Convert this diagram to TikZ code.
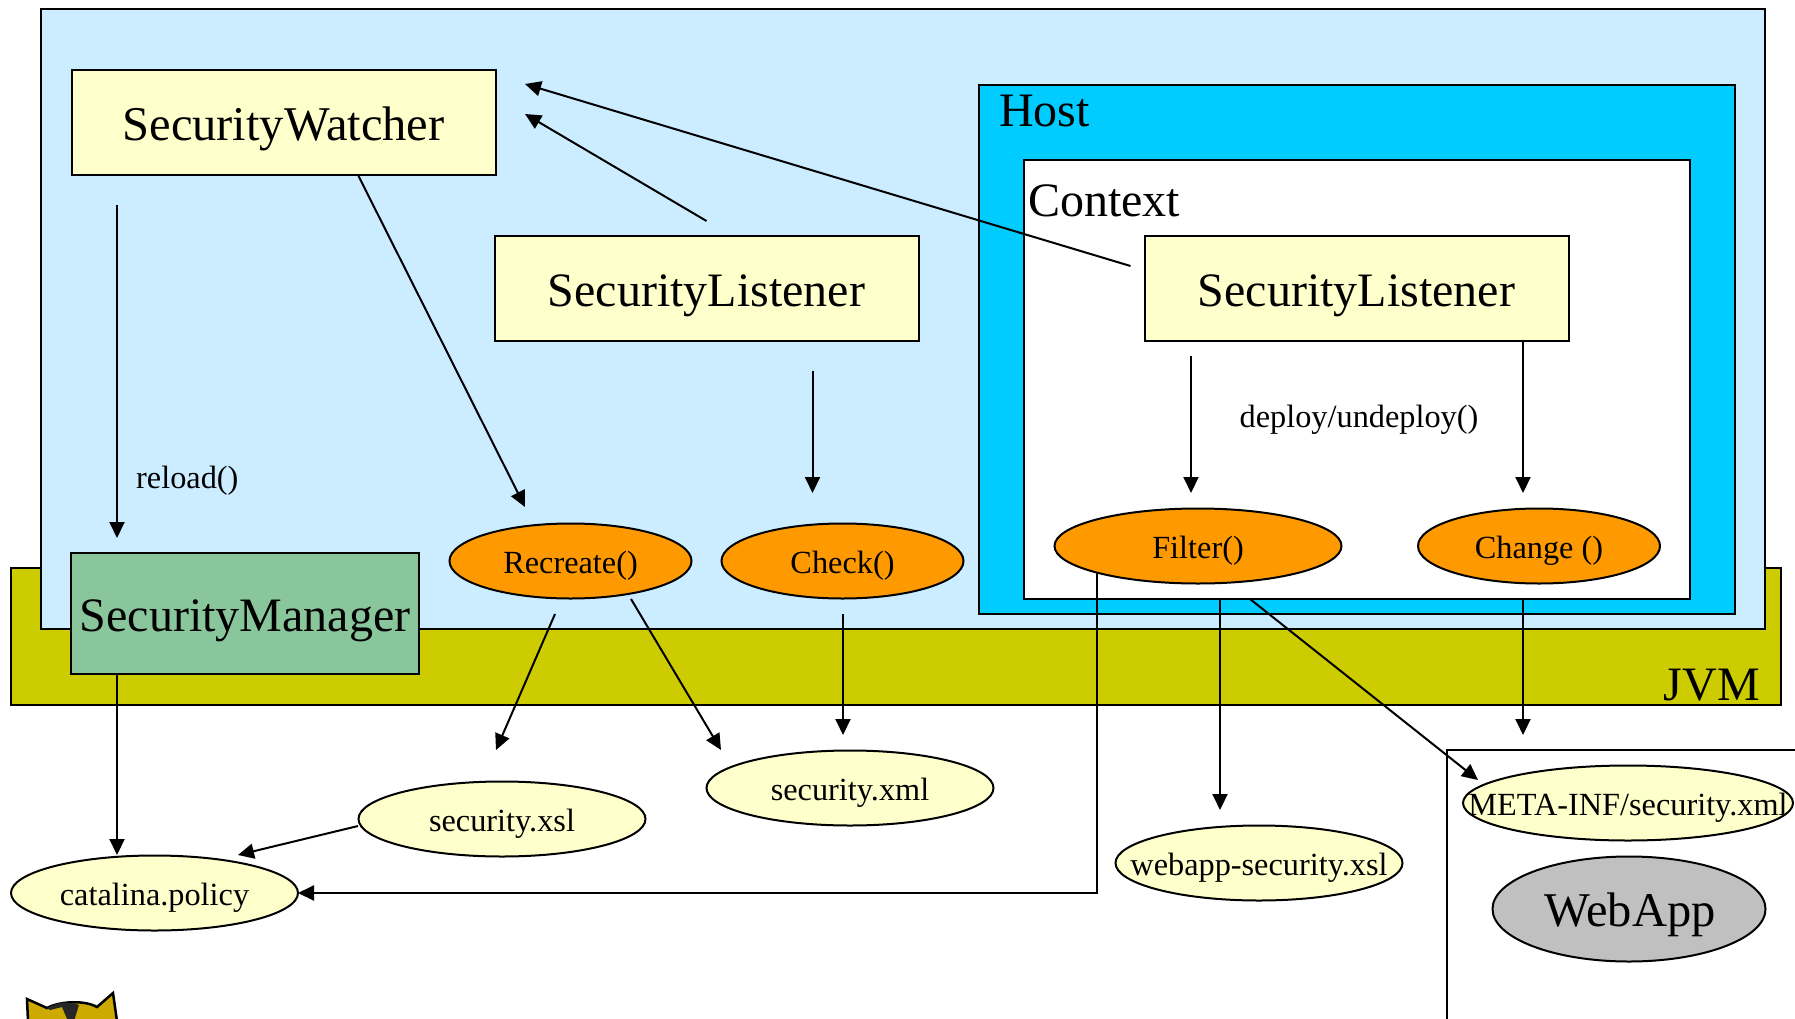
\documentclass[tikz,border=0pt]{standalone}
\usepackage{fontspec}
\setmainfont{Liberation Serif}
\usetikzlibrary{arrows.meta,shapes.geometric}
\definecolor{paleblue}{HTML}{CCECFF}
\definecolor{jvmolive}{HTML}{CCCC00}
\definecolor{hostblue}{HTML}{00CCFF}
\definecolor{paleyellow}{HTML}{FFFFCC}
\definecolor{mgrgreen}{HTML}{89C69C}
\definecolor{methodorange}{HTML}{FF9900}
\definecolor{appgray}{HTML}{C0C0C0}
\definecolor{catgold}{HTML}{CCAA00}
\newcommand{\bigtext}{\fontsize{48}{50}\selectfont}
\newcommand{\smalltext}{\fontsize{32.3}{34}\selectfont}
\newcommand{\lbl}[1]{\makebox[0pt]{#1}}
\tikzset{
  panel/.style={draw=black,line width=2pt,rectangle,inner sep=0pt,outer sep=0pt},
  classbox/.style={panel,fill=paleyellow,minimum width=424pt,minimum height=105pt,font=\bigtext,text height=40pt,text depth=4pt},
  oval/.style={draw=black,line width=2pt,ellipse,inner sep=0pt,outer sep=0pt,font=\smalltext,text height=28pt,text depth=4pt},
  method/.style={oval,fill=methodorange,minimum width=242pt,minimum height=75pt},
  fileoval/.style={oval,fill=paleyellow,minimum width=287pt,minimum height=75pt},
  arrow/.style={line width=2pt,-{Triangle[length=16pt,width=15pt]}},
  caption/.style={inner sep=0pt},
}
\begin{document}
\begin{tikzpicture}[x=1pt,y=-1pt]
\useasboundingbox (0,0) rectangle (1795,1019);
\clip (0,0) rectangle (1795,1019);
\node[panel,fill=jvmolive,minimum width=1770pt,minimum height=137pt] (JVM) at (896,636.5) {};
\node[panel,fill=paleblue,minimum width=1724pt,minimum height=620pt] (Server) at (903,319) {};
\node[panel,fill=hostblue,minimum width=756pt,minimum height=529pt] (Host) at (1357,349.5) {};
\node[panel,fill=white,minimum width=666pt,minimum height=439pt] (Context) at (1357,379.5) {};
\draw[line width=2pt] (1795,750) -- (1447,750) -- (1447,1019);
\node[caption,anchor=east,font=\bigtext] (JVMLabel) at (1760,685) {JVM};
\node[caption,anchor=west,font=\bigtext] (HostLabel) at (999,111) {Host};
\node[caption,anchor=west,font=\bigtext] (ContextLabel) at (1028,201) {Context};

\node[classbox,font=\fontsize{48.5}{50}\selectfont] (Watcher) at (283.5,122.5) {SecurityWatcher};
\node[classbox] (ListenerA) at (706.5,288.5) {SecurityListener};
\node[classbox] (ListenerB) at (1356.5,288.5) {SecurityListener};
\node[panel,fill=mgrgreen,minimum width=348pt,minimum height=121pt,font=\bigtext,text height=40pt,text depth=4pt] (Manager) at (245,613.5) {SecurityManager};

\node[method] (Recreate) at (570.5,561) {\lbl{Recreate()}};
\node[method] (Check) at (842.5,561) {\lbl{Check()}};
\node[method,minimum width=287pt] (Filter) at (1198,546) {\lbl{Filter()}};
\node[method] (Change) at (1539,546) {\lbl{Change ()}};
\node[fileoval] (SecXsl) at (502,819) {\lbl{security.xsl}};
\node[fileoval] (SecXml) at (850,788) {\lbl{security.xml}};
\node[fileoval] (Catalina) at (154.5,893) {\lbl{catalina.policy}};
\node[fileoval] (WebappXsl) at (1259,863) {\lbl{webapp-security.xsl}};
\node[fileoval,minimum width=330pt] (Meta) at (1628,803) {\lbl{META-INF/security.xml}};
\node[oval,fill=appgray,minimum width=273pt,minimum height=105pt,font=\fontsize{48.5}{50}\selectfont,text height=38pt,text depth=4pt] (WebApp) at (1629,909) {\hspace{2pt}\lbl{WebApp}};

\node[caption,anchor=west,font=\smalltext] (ReloadLabel) at (136,481) {reload()};
\node[caption,font=\smalltext] (DeployLabel) at (1359,420) {deploy/undeploy()};
\coordinate (WebBoxEntry) at (1523,735);

\draw[arrow] ([shift={(45.5,30)}]Watcher.south west) -- ([shift={(46,-15)}]Manager.north west);
\draw[arrow] ([shift={(74.5,0)}]Watcher.south) -- ([shift={(-45.5,-54)}]Recreate.center);
\draw[arrow] ([shift={(0,-15)}]ListenerA.north) -- ([shift={(29.5,-8.5)}]Watcher.east);
\draw[arrow] ([shift={(-14,-22.5)}]ListenerB.west) -- ([shift={(29.5,-38.5)}]Watcher.east);
\draw[arrow] ([shift={(106,30)}]ListenerA.south) -- ([shift={(-30,-68)}]Check.center);
\draw[arrow] ([shift={(-165.5,15)}]ListenerB.south) -- ([shift={(-7,-53)}]Filter.center);
\draw[arrow] ([shift={(166.5,0)}]ListenerB.south) -- ([shift={(-16,-53)}]Change.center);
\draw[arrow] ([shift={(-15.5,53)}]Recreate.center) -- ([shift={(-6,-69)}]SecXsl.center);
\draw[arrow] ([shift={(60.5,38)}]Recreate.center) -- ([shift={(-129,-38)}]SecXml.center);
\draw[arrow] ([shift={(0.5,53)}]Check.center) -- ([shift={(-7,-53)}]SecXml.center);
\draw[arrow] ([shift={(-101,26)}]Filter.center) |- (Catalina.east);
\draw[arrow] ([shift={(22,53)}]Filter.center) -- ([shift={(-39,-53)}]WebappXsl.center);
\draw[arrow] ([shift={(52,53)}]Filter.center) -- ([shift={(-150,-23)}]Meta.center);
\draw[arrow] ([shift={(-16,53)}]Change.center) -- (WebBoxEntry);
\draw[arrow] ([shift={(46,0)}]Manager.south west) -- ([shift={(-37.5,-38)}]Catalina.center);
\draw[arrow] ([shift={(-144,7)}]SecXsl.center) -- ([shift={(83.5,-38)}]Catalina.center);

\draw[line width=2.5pt,fill=catgold] (28,1021) -- (27,999) -- (47,1008) .. controls (60,1001) and (85,1000) .. (97,1007) -- (113,993) -- (117,1021) -- cycle;
\fill[black!85] (47,1008) .. controls (58,1002) and (68,1001) .. (79,1005) -- (74,1021) -- (68,1021) -- (62,1007) -- (50,1010) -- cycle;
\end{tikzpicture}
\end{document}
